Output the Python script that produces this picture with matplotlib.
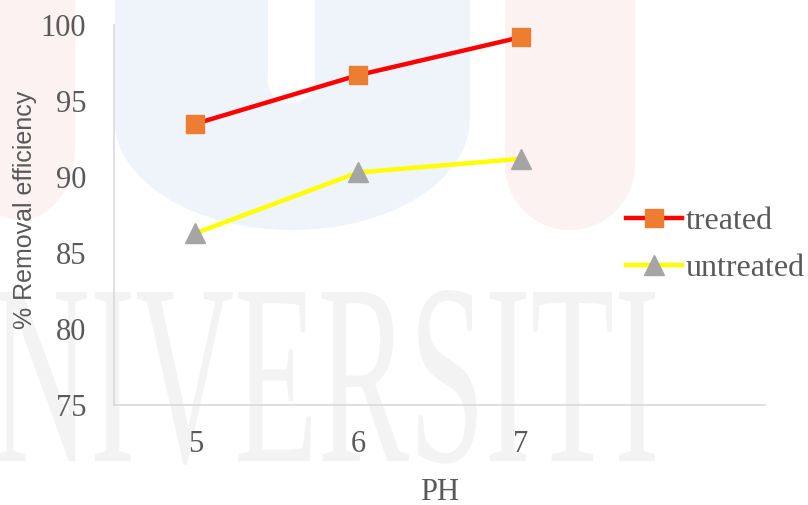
import matplotlib
matplotlib.use('Agg')
from matplotlib import pyplot as plt
from matplotlib.patches import Rectangle, Ellipse, PathPatch
from matplotlib.textpath import TextPath
from matplotlib.font_manager import FontProperties
from matplotlib.transforms import Affine2D

ph_labels = ['5', '6', '7']
treated = [93.5, 96.7, 99.2]
untreated = [86.3, 90.3, 91.2]

W, H = 808, 505
fig = plt.figure(figsize=(W / 100, H / 100), dpi=100)
fig.patch.set_facecolor('white')

# faint watermark behind the chart (pixel coords, y from top)
px = Affine2D().scale(1.0 / W, -1.0 / H).translate(0, 1) + fig.transFigure

def add(p):
    p.set_transform(px)
    p.set_zorder(0)
    fig.patches.append(p)

blue = '#eef4f9'
pink = '#fdf2f2'
add(Rectangle((115, -5), 355, 125, color=blue, lw=0))
add(Ellipse((292, 120), 355, 220, color=blue, lw=0))
add(Rectangle((268, -5), 47, 85, color='white', lw=0))
add(Ellipse((291, 80), 47, 47, color='white', lw=0))
add(Rectangle((505, -5), 130, 170, color=pink, lw=0))
add(Ellipse((570, 165), 130, 130, color=pink, lw=0))
add(Rectangle((-5, -5), 80, 150, color=pink, lw=0))
add(Ellipse((20, 150), 110, 140, color=pink, lw=0))

tp = TextPath((0, 0), 'NIVERSITI', size=100, prop=FontProperties(family='Liberation Serif'))
ext = tp.get_extents()
sx = 660 / ext.width
sy = 175 / ext.height
tr = Affine2D().translate(-ext.x0, -ext.y0).scale(sx, -sy).translate(-5, 465)
wm = PathPatch(tr.transform_path(tp), color='#f3f3f3', lw=0)
add(wm)

ax = fig.add_axes([114 / W, 1 - 405 / H, (765 - 114) / W, (405 - 25) / H])
ax.patch.set_visible(False)
ax.set_zorder(2)

x = list(range(len(ph_labels)))
ax.plot(x, treated, color='#ff0000', lw=3.2, marker='s', ms=13,
        mfc='#ed7d31', mec='#ed7d31', label='treated', zorder=3)
ax.plot(x, untreated, color='#ffff00', lw=3.2, marker='^', ms=15,
        mfc='#a5a5a5', mec='#a5a5a5', label='untreated', zorder=3)

ax.set_xlim(-0.5, 3.5)
ax.set_ylim(75, 100)
ax.set_xticks(x)
ax.set_xticklabels(ph_labels)
ax.set_yticks([75, 80, 85, 90, 95, 100])

for s in ['top', 'right']:
    ax.spines[s].set_visible(False)
for s in ['left', 'bottom']:
    ax.spines[s].set_color('#d9d9d9')
    ax.spines[s].set_linewidth(1.2)

ax.tick_params(axis='both', length=0, labelsize=22, labelcolor='#595959')
ax.tick_params(axis='y', pad=20)
ax.tick_params(axis='x', pad=18)
for lab in ax.get_xticklabels() + ax.get_yticklabels():
    lab.set_family('Liberation Serif')

fig.text(25 / W, 1 - 210 / H, '% Removal efficiency', rotation=90, ha='center', va='center',
         fontsize=18, color='#595959', family='Liberation Sans')
fig.text(440 / W, 1 - 492 / H, 'PH', ha='center', va='center',
         fontsize=22, color='#595959', family='Liberation Serif')

leg = fig.legend(loc='center left', bbox_to_anchor=(626 / W, 1 - 245 / H), frameon=False,
                 prop=FontProperties(family='Liberation Serif', size=23),
                 handlelength=1.75, handletextpad=0.12, labelspacing=0.55, borderpad=0,
                 borderaxespad=0)
for t in leg.get_texts():
    t.set_color('#595959')

fig.savefig('out.png', dpi=100)
